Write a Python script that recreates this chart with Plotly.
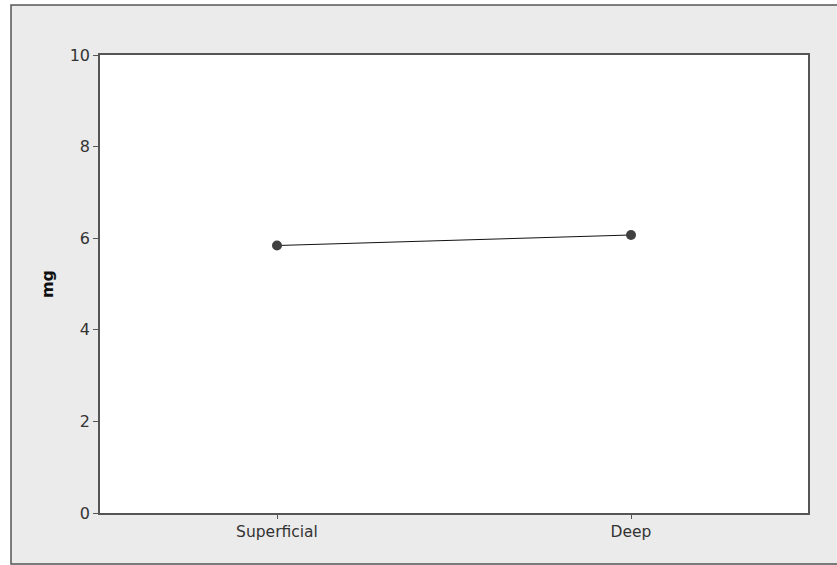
import plotly.graph_objects as go

categories = ["Superficial", "Deep"]
values = [5.84, 6.07]
y_ticks = [0, 2, 4, 6, 8, 10]

W, H = 837, 565
L, R, T, B = 100, 29, 55, 52
pw, ph = W - L - R, H - T - B

def px(x):
    return (x - L) / pw

def py(y):
    return (H - B - y) / ph

fig = go.Figure()
fig.add_trace(go.Scatter(
    x=categories, y=values, mode="lines+markers",
    line=dict(color="#111111", width=1),
    marker=dict(color="#404040", size=10),
    showlegend=False, cliponaxis=False,
))

shapes = [
    dict(type="rect", xref="paper", yref="paper", x0=px(0), x1=px(11), y0=py(H), y1=py(0),
         fillcolor="white", line=dict(width=0), layer="below"),
    dict(type="rect", xref="paper", yref="paper", x0=px(0), x1=px(W), y0=py(5), y1=py(0),
         fillcolor="white", line=dict(width=0), layer="below"),
    dict(type="rect", xref="paper", yref="paper", x0=px(11), x1=px(W + 3), y0=py(564), y1=py(5),
         fillcolor="rgba(0,0,0,0)", line=dict(color="#555555", width=1.5), layer="below"),
]

fig.update_layout(
    width=W, height=H,
    margin=dict(l=L, r=R, t=T, b=B),
    paper_bgcolor="#ebebeb",
    plot_bgcolor="white",
    font=dict(family="DejaVu Sans", size=15, color="#333333"),
    shapes=shapes,
    xaxis=dict(
        type="category", range=[-0.5, 1.5],
        showline=True, linecolor="#555555", linewidth=1.5, mirror=True,
        ticks="outside", ticklen=4, tickcolor="#555555",
        showgrid=False, zeroline=False,
        tickfont=dict(size=15.5, color="#333333"),
    ),
    yaxis=dict(
        range=[0, 10], tickvals=y_ticks,
        showline=True, linecolor="#555555", linewidth=1.5, mirror=True,
        ticks="outside", ticklen=5, tickcolor="#555555",
        showgrid=False, zeroline=False,
        tickfont=dict(size=16, color="#333333"),
        title=dict(text="<b>mg</b>", font=dict(size=16, color="#111111"), standoff=12),
    ),
)

fig.write_html("out.html")
